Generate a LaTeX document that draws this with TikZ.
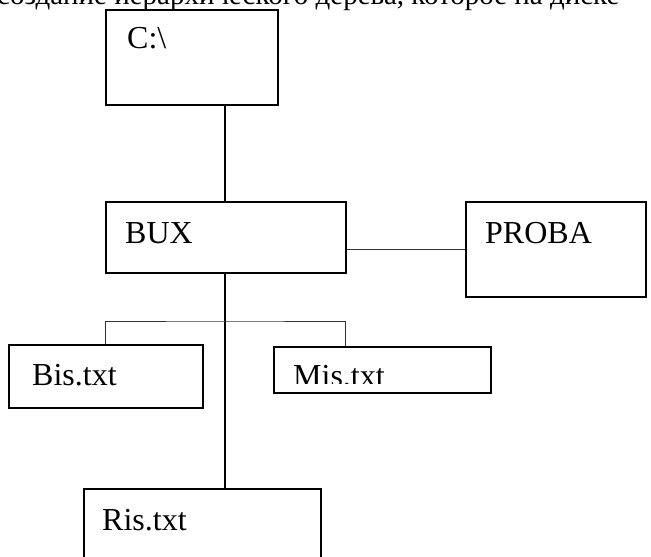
\documentclass[tikz,border=0pt]{standalone}
\usepackage{fontspec}
\setmainfont{Liberation Serif}
\usepackage{tikz}
\usetikzlibrary{calc,positioning}

\begin{document}
\begin{tikzpicture}[x=1pt, y=-1pt,
	folder/.style={draw, line width=1.5pt, rectangle, anchor=north west, inner sep=0pt},
	dirname/.style={anchor=base west, inner sep=0pt, font=\fontsize{32}{36}\selectfont},
	trunkline/.style={line width=1.5pt},
	branchline/.style={line width=1pt, black!80}]
		\useasboundingbox (0, 0) rectangle (651, 557);
		% cut-off line of the page text above the figure
		\node[dirname, font=\fontsize{29}{34}\selectfont] (pagetext) at (-3, 4) {создание иерархического дерева, которое на диске};
		\node[folder, minimum width=172pt, minimum height=95pt] (cdrive) at (105, 9) {};
		\node[folder, minimum width=240pt, minimum height=71pt] (bux) at (105, 201) {};
		\node[folder, minimum width=180pt, minimum height=95pt] (proba) at (465, 201) {};
		\node[folder, minimum width=194pt, minimum height=63pt] (bis) at (8, 344) {};
		\node[folder, minimum width=217pt, minimum height=46pt] (mis) at (273, 346) {};
		\node[folder, minimum width=237pt, minimum height=90pt] (ris) at (83, 488) {};
		\node[dirname] (cdrive-txt) at (127, 48) {C:\textbackslash};
		\node[dirname] (bux-txt) at (125, 243) {BUX};
		\node[dirname] (proba-txt) at (485, 243) {PROBA};
		\node[dirname] (bis-txt) at (32, 385) {Bis.txt};
		\node[dirname] (ris-txt) at (102, 530) {Ris.txt};
		\begin{scope}
			\clip (274, 347) rectangle (489, 383);
			\node[dirname] (mis-txt) at (293, 386) {Mis.txt};
		\end{scope}
		\coordinate (trunk) at (225, 0);
		\coordinate (fork) at (225, 321);
		\coordinate (mis-in) at (345, 346);
		\draw[trunkline] (trunk |- cdrive.south) to (trunk |- bux.north);
		\draw[trunkline] (trunk |- bux.south) to (trunk |- ris.north);
		\draw[branchline] (proba.west) to (proba.west -| bux.east);
		\draw[branchline] (bis.north) |- (fork) -| (mis-in);
	\end{tikzpicture}
\end{document}
